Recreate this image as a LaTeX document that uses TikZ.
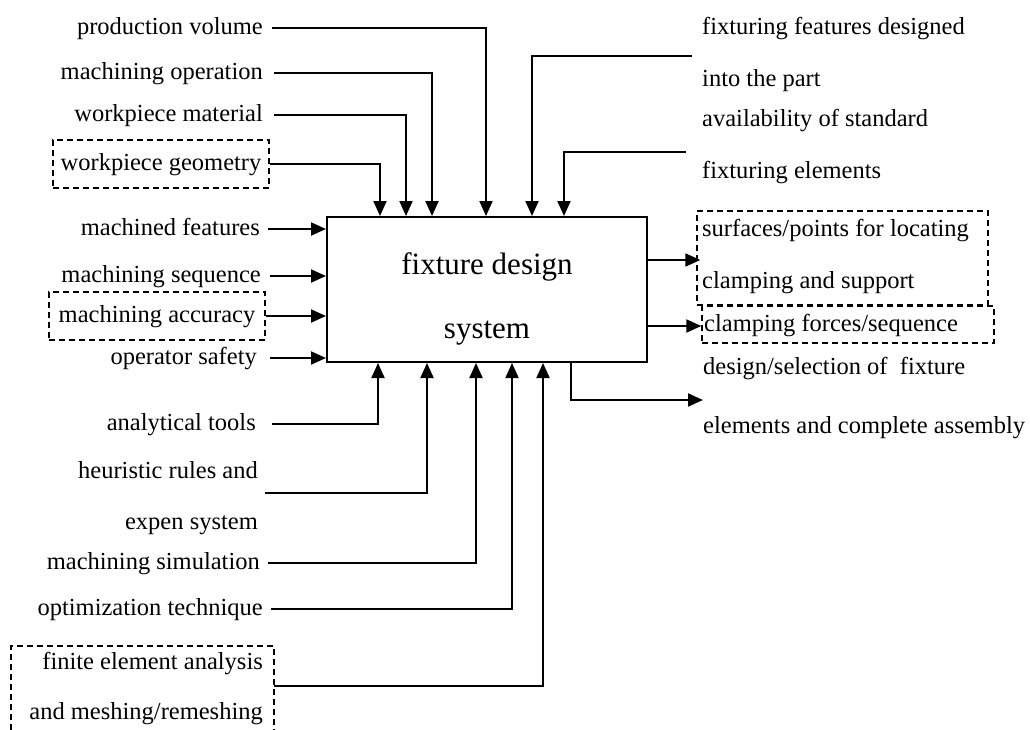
\documentclass[tikz,border=0pt]{standalone}
\usepackage{fontspec}
\setmainfont{Liberation Serif}
\usetikzlibrary{arrows.meta}
\tikzset{
  lbl/.style={font=\fontsize{24.5}{28}\selectfont, inner sep=0pt, text height=17pt, text depth=5pt},
  lblL/.style={lbl, anchor=east},
  lblR/.style={lbl, anchor=west},
  dashline/.style={line width=1.4pt, dash pattern=on 6pt off 4pt},
  dlbl/.style={lbl, draw, dashline, minimum width=216pt, minimum height=48pt},
  dframe/.style={draw, dashline, inner sep=0pt},
  conn/.style={line width=2pt},
  arr/.style={conn, -{Triangle[length=15pt,width=13pt]}},
  mainbox/.style={draw, line width=2pt, minimum width=320pt, minimum height=145pt, inner sep=0pt},
  boxtxt/.style={font=\fontsize{31}{37}\selectfont, inner sep=0pt},
}
\begin{document}
\begin{tikzpicture}[x=1pt,y=-1pt]
\useasboundingbox (0,0) rectangle (1030,729);
% main box
\node[mainbox] (mb) at (487,289.5) {};
\node[boxtxt, anchor=base] (bt1) at (487,274) {fixture design};
\node[boxtxt, anchor=base] (bt2) at (487,338) {system};
% left labels
\node[lblL] (pv) at (263,28) {production volume};
\node[lblL] (mo) at (263,73) {machining operation};
\node[lblL] (wm) at (263,115) {workpiece material};
\node[dlbl] (wg) at (161,164) {workpiece geometry};
\node[lblL] (mf) at (260,229) {machined features};
\node[lblL] (msq) at (261,276) {machining sequence};
\node[dlbl] (ma) at (157,316) {machining accuracy};
\node[lblL] (os) at (257,358) {operator safety};
\node[lblL] (at) at (256,424) {analytical tools};
\node[lblL] (hr1) at (258,472) {heuristic rules and};
\node[lblL] (hr2) at (258,523) {expen system};
\node[lblL] (msim) at (260,563) {machining simulation};
\node[lblL] (ot) at (263,609) {optimization technique};
\node[lblL] (fe1) at (263,663) {finite element analysis};
\node[lblL] (fe2) at (263,713) {and meshing/remeshing};
\draw[dashline] (11,740) -- (11,646) -- (274,646) -- (274,740);
% right labels
\node[lblR] (ff1) at (702,28) {fixturing features designed};
\node[lblR] (ff2) at (702,80) {into the part};
\node[lblR] (av1) at (702,120) {availability of standard};
\node[lblR] (av2) at (702,172) {fixturing elements};
\node[dframe, minimum width=291pt, minimum height=94pt] (spbox) at (842.5,258) {};
\node[lblR] (sp1) at (702,230) {surfaces/points for locating};
\node[lblR] (sp2) at (702,282) {clamping and support};
\node[dframe, minimum width=292pt, minimum height=37pt] (cfbox) at (848,324.5) {};
\node[lblR] (cf) at (704,325) {clamping forces/sequence};
\node[lblR] (ds1) at (703,368) {design/selection of \ fixture};
\node[lblR] (ds2) at (703,427) {elements and complete assembly};
% free ends
\coordinate (hrs) at (265,493);
\coordinate (fes) at (274,686);
\coordinate (ffs) at (692,56);
\coordinate (avs) at (686,152);
\coordinate (o1) at (647,260);
\coordinate (o2) at (647,326);
\coordinate (o3) at (703,400);
% top inputs
\draw[arr] ([xshift=9pt]pv.east) -| ([xshift=160pt]mb.north west);
\draw[arr] ([xshift=11pt]mo.east) -| ([xshift=106pt]mb.north west);
\draw[arr] ([xshift=11pt]wm.east) -| ([xshift=80pt]mb.north west);
\draw[arr] (wg.east) -| ([xshift=54pt]mb.north west);
\draw[arr] (ffs) -| ([xshift=206pt]mb.north west);
\draw[arr] (avs) -| ([xshift=238pt]mb.north west);
% left inputs
\draw[arr] ([xshift=8pt]mf.east) -- (mb.west |- mf.east);
\draw[arr] ([xshift=9pt]msq.east) -- (mb.west |- msq.east);
\draw[arr] (ma.east) -- (mb.west |- ma.east);
\draw[arr] ([xshift=13pt]os.east) -- (mb.west |- os.east);
% bottom inputs
\draw[arr] ([xshift=16pt]at.east) -| ([xshift=52pt]mb.south west);
\draw[arr] (hrs) -| ([xshift=101pt]mb.south west);
\draw[arr] ([xshift=8pt]msim.east) -| ([xshift=150pt]mb.south west);
\draw[arr] ([xshift=8pt]ot.east) -| ([xshift=186pt]mb.south west);
\draw[arr] (fes) -| ([xshift=217pt]mb.south west);
% outputs
\draw[arr] (o1) -- ([xshift=4pt]spbox.west |- o1);
\draw[arr] (o2) -- (cfbox.west |- o2);
\draw[arr] ([xshift=245pt]mb.south west) |- (o3);
\end{tikzpicture}
\end{document}
